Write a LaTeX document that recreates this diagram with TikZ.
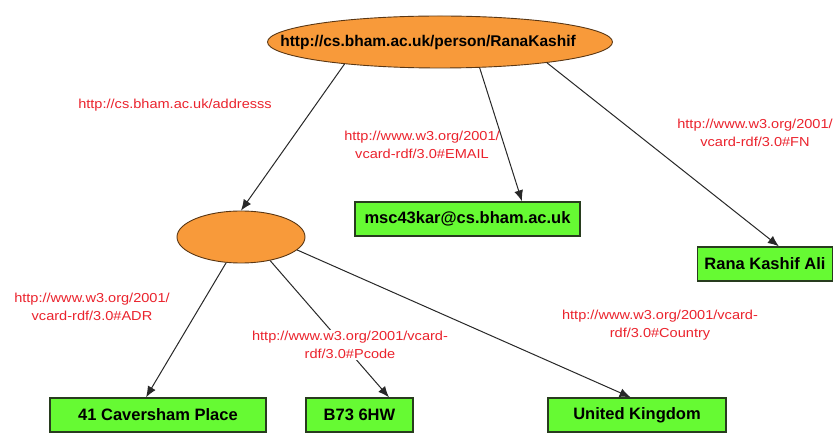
\documentclass[tikz,border=0pt]{standalone}
\usepackage{fontspec}
\setmainfont{Liberation Sans}
\newfontfamily\lblfont[FakeStretch=1.12]{Liberation Sans}
\usetikzlibrary{shapes.geometric,arrows.meta}
\definecolor{resfill}{RGB}{248,154,58}
\definecolor{resline}{RGB}{90,55,20}
\definecolor{litfill}{RGB}{102,250,51}
\definecolor{litline}{RGB}{40,60,30}
\definecolor{predred}{RGB}{235,35,45}
\definecolor{edgegray}{RGB}{40,40,40}
\tikzset{
  resource/.style={ellipse, draw=resline, line width=0.9pt, fill=resfill, inner sep=0pt},
  literal/.style={rectangle, draw=litline, line width=1.4pt, fill=litfill,
    minimum height=34pt, inner sep=0pt, font=\fontsize{16.5}{18}\selectfont\bfseries},
  restext/.style={font=\fontsize{15.5}{18}\selectfont\bfseries, inner sep=0pt},
  pred/.style={text=predred, font=\lblfont\fontsize{13}{18}\selectfont, align=center, inner sep=1pt},
  edge/.style={draw=edgegray, line width=1pt, -{Latex[length=11pt,width=9pt]}}
}
\begin{document}
\begin{tikzpicture}[x=1pt,y=-1pt]
  \useasboundingbox (0,0) rectangle (838,435);
  \fill[white] (0,0) rectangle (838,435);

  % resources
  \node[resource, minimum width=345pt, minimum height=52pt] (person) at (440,42) {};
  \node[restext] (personlbl) at (428,42) {http://cs.bham.ac.uk/person/RanaKashif};
  \node[resource, minimum width=128pt, minimum height=52pt] (addr) at (241,237) {};

  % literals
  \node[literal, minimum width=225pt] (email) at (467.5,219) {msc43kar@cs.bham.ac.uk};
  \node[literal, minimum width=135pt] (fn) at (765,264) {Rana Kashif Ali};
  \node[literal, minimum width=216pt] (street) at (158,415) {41 Caversham Place};
  \node[literal, minimum width=107pt] (pcode) at (359.5,415) {B73 6HW};
  \node[literal, minimum width=178pt] (country) at (637,415) {United Kingdom};

  % properties
  \draw[edge] (person.193) -- (addr.north);
  \draw[edge] (person.327) -- (email.18.6);
  \draw[edge] (person.349.7) -- (fn.52.6);
  \draw[edge] (addr.240) -- (street.124.4);
  \draw[edge] (addr.321) -- (pcode.31.9);
  \draw[edge] (addr.347.2) -- (country.110.2);

  % property labels
  \node[pred] (paddr) at (175,105) {http://cs.bham.ac.uk/addresss};
  \node[pred] (pemail) at (422,145) {http://www.w3.org/2001/\\vcard-rdf/3.0\#EMAIL};
  \node[pred] (pfn) at (755,133) {http://www.w3.org/2001/\\vcard-rdf/3.0\#FN};
  \node[pred] (padr) at (92,307) {http://www.w3.org/2001/\\vcard-rdf/3.0\#ADR};
  \node[pred, fill=white] (ppcode) at (350,345) {http://www.w3.org/2001/vcard-\\rdf/3.0\#Pcode};
  \node[pred] (pcountry) at (660,325) {http://www.w3.org/2001/vcard-\\rdf/3.0\#Country};
\end{tikzpicture}
\end{document}
